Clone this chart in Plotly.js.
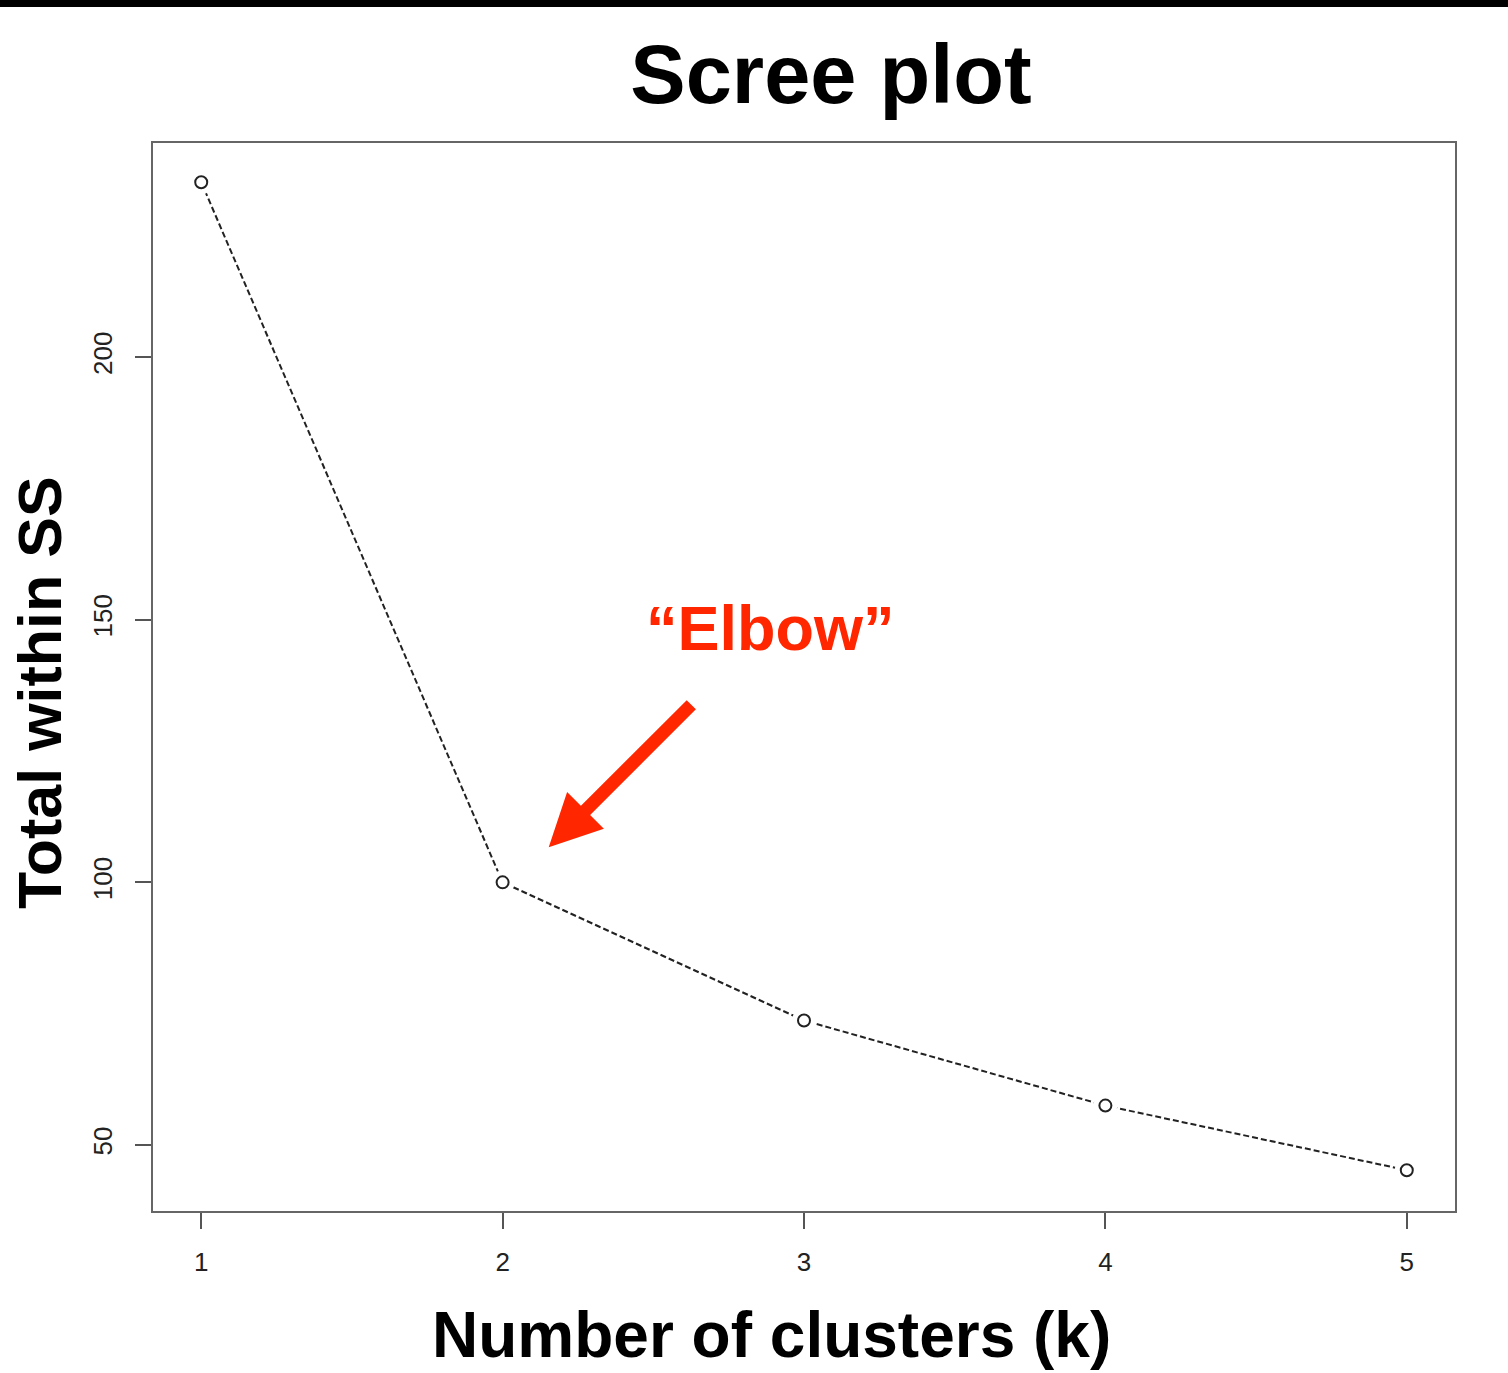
<!DOCTYPE html>
<html>
<head>
<meta charset="utf-8">
<script src="https://cdn.plot.ly/plotly-3.0.1.min.js"></script>
<style>
html,body{margin:0;padding:0;background:#fff;}
#bar{position:absolute;left:0;top:0;width:1508px;height:7px;background:#000;z-index:10;}
#chart{width:1508px;height:1373px;}
</style>
</head>
<body>
<div id="bar"></div>
<div id="chart"></div>
<script>
const clusters = [1, 2, 3, 4, 5];
const totalWithinSS = [233.3, 100.0, 73.7, 57.5, 45.2];
const xTicks = [1, 2, 3, 4, 5];
const yTicks = [50, 100, 150, 200];

const red = '#ff2600';
const font = 'Liberation Sans, Arial, Helvetica, sans-serif';

const traces = [
  {x: clusters, y: totalWithinSS, mode: 'lines', type: 'scatter',
   line: {color: '#222', width: 2, dash: '6px,3px'}, hoverinfo: 'skip'},
  {x: clusters, y: totalWithinSS, mode: 'markers', type: 'scatter',
   marker: {symbol: 'circle', size: 24, color: '#fff', line: {width: 0}}, hoverinfo: 'skip'},
  {x: clusters, y: totalWithinSS, mode: 'markers', type: 'scatter',
   marker: {symbol: 'circle-open', size: 12, color: '#222', line: {width: 2, color: '#222'}}}
];

const layout = {
  width: 1508, height: 1373,
  margin: {l: 153, r: 53, t: 143, b: 162},
  paper_bgcolor: '#fff', plot_bgcolor: '#fff',
  showlegend: false,
  title: {text: '<b>Scree plot</b>', x: 831/1508, xanchor: 'center', xref: 'container',
          y: 1 - 74/1373, yanchor: 'middle', yref: 'container',
          font: {family: font, size: 83, color: '#000'}},
  xaxis: {range: [0.84, 5.16], tickvals: xTicks, ticktext: xTicks.map(String),
          showgrid: false, zeroline: false, showline: true, mirror: true,
          linecolor: '#666', linewidth: 2, ticks: 'outside', ticklen: 16, tickwidth: 2,
          ticklabelstandoff: 11,
          tickcolor: '#555', tickfont: {family: font, size: 26, color: '#222'}},
  yaxis: {range: [37.43, 240.76], tickvals: yTicks, ticktext: yTicks.map(String),
          tickangle: -90, ticklabelstandoff: 13,
          showgrid: false, zeroline: false, showline: true, mirror: true,
          linecolor: '#666', linewidth: 2, ticks: 'outside', ticklen: 16, tickwidth: 2,
          tickcolor: '#555', tickfont: {family: font, size: 26, color: '#222'}},
  annotations: [
    {text: '<b>Total within SS</b>', xref: 'paper', yref: 'paper',
     x: (40 - 153) / 1302, y: (1211 - 693) / 1068, xanchor: 'center', yanchor: 'middle',
     textangle: -90, showarrow: false, font: {family: font, size: 61, color: '#000'}},
    {text: '<b>Number of clusters (k)</b>', xref: 'paper', yref: 'paper',
     x: (771 - 153) / 1302, y: (1211 - 1335) / 1068, xanchor: 'center', yanchor: 'middle',
     showarrow: false, font: {family: font, size: 64, color: '#000'}},
    {text: '<b>\u201cElbow\u201d</b>', xref: 'x', yref: 'y', x: 2.89, y: 148.4,
     xanchor: 'center', yanchor: 'middle', showarrow: false,
     font: {family: font, size: 63, color: red}},
    {text: '', xref: 'x', yref: 'y', x: 2.153, y: 106.7,
     axref: 'x', ayref: 'y', ax: 2.631, ay: 134.1,
     showarrow: true, arrowhead: 2, arrowwidth: 13, arrowsize: 0.8, arrowcolor: red, standoff: 0}
  ]
};

Plotly.newPlot('chart', traces, layout, {displayModeBar: false, staticPlot: true});
</script>
</body>
</html>
